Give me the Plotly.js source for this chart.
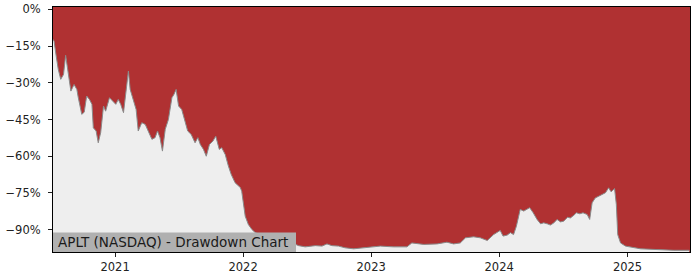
<!DOCTYPE html>
<html>
<head>
<meta charset="utf-8">
<script src="https://cdn.plot.ly/plotly-3.0.1.min.js"></script>
<style>
  html, body { margin: 0; padding: 0; background: #ffffff; }
  #chart { width: 700px; height: 280px; }
</style>
</head>
<body>
<div id="chart"></div>
<script>
const chartTitle = "APLT (NASDAQ) - Drawdown Chart";

const dates = [
  "2020-07-08","2020-07-11","2020-07-17","2020-07-23","2020-07-30","2020-08-07","2020-08-13","2020-08-21","2020-08-28",
  "2020-09-06","2020-09-14","2020-09-18","2020-09-28","2020-10-05","2020-10-12","2020-10-20","2020-10-27",
  "2020-10-31","2020-11-08","2020-11-14","2020-11-21","2020-11-29","2020-12-05","2020-12-16","2020-12-25",
  "2021-01-03","2021-01-10","2021-01-17","2021-01-25","2021-02-01","2021-02-08","2021-02-13","2021-02-22",
  "2021-03-02","2021-03-08","2021-03-18","2021-03-28","2021-04-06","2021-04-16","2021-04-25","2021-05-02",
  "2021-05-09","2021-05-16","2021-05-24","2021-06-02","2021-06-12","2021-06-18","2021-06-24","2021-07-01",
  "2021-07-10","2021-07-18","2021-07-27","2021-08-06","2021-08-17","2021-08-25","2021-09-01","2021-09-10",
  "2021-09-18","2021-09-27","2021-10-07","2021-10-15","2021-10-25","2021-11-01","2021-11-11","2021-11-20",
  "2021-11-28","2021-12-09","2021-12-19","2021-12-24","2021-12-28","2022-01-02","2022-01-07","2022-01-16",
  "2022-01-26","2022-02-04","2022-02-24","2022-03-14","2022-04-12","2022-05-10","2022-06-08","2022-06-27",
  "2022-07-26","2022-08-14","2022-08-28","2022-09-11","2022-09-30","2022-10-19","2022-11-12","2022-12-20",
  "2023-01-27","2023-03-06","2023-04-13","2023-04-27","2023-05-31","2023-07-08","2023-08-05","2023-08-24",
  "2023-09-12","2023-09-27","2023-10-20","2023-11-08","2023-11-28","2023-12-16","2024-01-04","2024-01-12",
  "2024-01-24","2024-02-02","2024-02-11","2024-02-19","2024-03-01","2024-03-11","2024-03-20","2024-03-28",
  "2024-04-07","2024-04-18","2024-04-28","2024-05-07","2024-05-17","2024-05-26","2024-06-05","2024-06-14",
  "2024-06-24","2024-07-03","2024-07-14","2024-07-22","2024-08-01","2024-08-08","2024-08-18","2024-08-27",
  "2024-09-08","2024-09-15","2024-09-22","2024-10-01","2024-10-11","2024-10-21","2024-10-30","2024-11-08",
  "2024-11-15","2024-11-25","2024-11-30","2024-12-04","2024-12-12","2024-12-26","2025-01-09","2025-02-07",
  "2025-05-13","2025-06-26"
];

const drawdown = [
  -12.3,-13.0,-19.0,-24.5,-28.6,-26.6,-18.8,-25.9,-33.4,
  -30.7,-32.7,-36.0,-42.9,-42.0,-35.4,-36.8,-38.8,
  -48.4,-49.7,-54.5,-50.3,-39.5,-41.6,-36.1,-37.5,
  -38.8,-36.8,-38.8,-42.2,-32.7,-25.2,-32.7,-36.8,
  -40.9,-49.7,-46.3,-47.0,-49.7,-53.1,-52.4,-49.7,
  -52.4,-57.9,-49.0,-45.0,-36.1,-34.7,-32.7,-39.5,
  -40.9,-45.0,-49.7,-51.1,-54.5,-52.4,-55.2,-57.2,
  -60.0,-55.2,-53.8,-51.8,-57.2,-56.5,-59.3,-64.0,
  -67.4,-70.8,-72.2,-72.8,-74.3,-80.4,-84.5,-87.9,
  -89.9,-91.1,-92.6,-93.3,-94.0,-94.7,-96.5,-97.0,
  -96.5,-96.7,-95.8,-96.5,-96.7,-97.4,-97.8,-97.4,
  -96.7,-97.0,-97.0,-95.4,-96.0,-95.8,-95.1,-95.8,
  -95.4,-93.3,-92.9,-93.3,-94.4,-92.0,-90.3,-92.6,
  -92.2,-91.2,-92.0,-88.6,-81.7,-82.4,-81.7,-81.0,
  -83.1,-85.8,-87.6,-87.2,-87.6,-88.1,-87.2,-85.8,
  -86.8,-86.5,-84.9,-85.2,-84.1,-83.1,-83.5,-83.1,
  -83.8,-85.8,-79.0,-77.0,-76.3,-75.6,-74.9,-72.9,
  -74.5,-73.2,-79.7,-92.0,-95.4,-96.7,-97.1,-97.8,
  -98.4,-98.4
];

const yTickVals = [0, -15, -30, -45, -60, -75, -90];
const yTickText = ["0%", "\u221215%", "\u221230%", "\u221245%", "\u221260%", "\u221275%", "\u221290%"];
const xTickVals = ["2021-01-01", "2022-01-01", "2023-01-01", "2024-01-01", "2025-01-01"];
const xTickText = ["2021", "2022", "2023", "2024", "2025"];

const floorLevel = -120;
const floorTrace = {
  x: [dates[0], dates[dates.length - 1]],
  y: [floorLevel, floorLevel],
  mode: "lines",
  line: { width: 0 },
  hoverinfo: "skip",
  showlegend: false
};

const ddTrace = {
  x: dates,
  y: drawdown,
  mode: "lines",
  line: { color: "#8a8a8a", width: 1 },
  fill: "tonexty",
  fillcolor: "#eeeeee",
  showlegend: false
};

const layout = {
  width: 700,
  height: 280,
  margin: { l: 53, r: 10, t: 7, b: 28, pad: 0 },
  paper_bgcolor: "#ffffff",
  plot_bgcolor: "#b03132",
  font: { family: "DejaVu Sans", size: 11.5, color: "#222222" },
  xaxis: {
    type: "date",
    range: ["2020-07-08", "2025-06-28"],
    tickvals: xTickVals,
    ticktext: xTickText,
    ticks: "outside",
    ticklen: 4,
    tickcolor: "#222",
    showgrid: false,
    zeroline: false,
    showline: true,
    linecolor: "#000",
    linewidth: 1,
    mirror: true
  },
  yaxis: {
    range: [-99.1, 0.94],
    tickvals: yTickVals,
    ticktext: yTickText,
    ticks: "outside",
    ticklen: 4,
    ticklabelstandoff: 5,
    tickcolor: "#222",
    showgrid: false,
    zeroline: false,
    showline: true,
    linecolor: "#000",
    linewidth: 1,
    mirror: true
  },
  shapes: [{
    type: "rect",
    xref: "paper", yref: "paper",
    x0: 0, x1: 0.3815, y0: 0, y1: 0.08,
    fillcolor: "#b0b0b0",
    line: { width: 0 },
    layer: "above"
  }],
  annotations: [{
    xref: "paper", yref: "paper",
    x: 0.004, y: 0.04,
    xanchor: "left", yanchor: "middle",
    text: chartTitle,
    showarrow: false,
    font: { family: "DejaVu Sans", size: 13.5, color: "#1a1a1a" }
  }]
};

Plotly.newPlot("chart", [floorTrace, ddTrace], layout, { displayModeBar: false, staticPlot: true });
</script>
</body>
</html>
